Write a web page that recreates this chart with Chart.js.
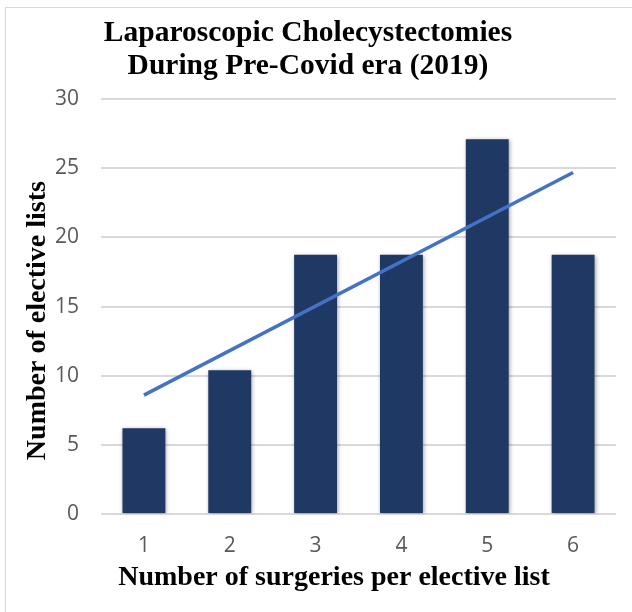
<!DOCTYPE html>
<html>
<head>
<meta charset="utf-8">
<script src="https://cdn.jsdelivr.net/npm/chart.js@4"></script>
<style>
  html, body { margin: 0; padding: 0; background: #fff; overflow: hidden; }
  #frame { position: absolute; left: 5px; top: 7px; width: 700px; height: 700px; border: 1px solid #d9d9d9; box-sizing: border-box; }
  #wrap { position: absolute; left: 0; top: 0; width: 632px; height: 612px; }
</style>
</head>
<body>
<div id="frame"></div>
<div id="wrap"><canvas id="c" width="632" height="612"></canvas></div>
<script>
const categories = ['1', '2', '3', '4', '5', '6'];
const electiveLists = [6.2, 10.4, 18.75, 18.75, 27.1, 18.75];
const trendStart = { x: '1', y: 8.6 };
const trendEnd = { x: '6', y: 24.7 };
const yTicks = [0, 5, 10, 15, 20, 25, 30];

const titleLines = ['Laparoscopic Cholecystectomies', 'During Pre-Covid era (2019)'];
const NB = '\u00A0';
const xTitle = 'Number of surgeries per elective list' + NB.repeat(7);
const yTitle = 'Number of elective lists' + NB.repeat(4);

const serif = "'Liberation Serif', 'Times New Roman', serif";
const sans = "'Open Sans', 'Noto Sans', sans-serif";

const shadowPlugin = {
  id: 'barShadow',
  beforeDatasetDraw(chart, args) {
    if (chart.data.datasets[args.index].type === 'bar') {
      const ctx = chart.ctx;
      ctx.save();
      ctx.shadowColor = 'rgba(0,0,0,0.35)';
      ctx.shadowBlur = 4;
      ctx.shadowOffsetX = 1;
      ctx.shadowOffsetY = 1;
    }
  },
  afterDatasetDraw(chart, args) {
    if (chart.data.datasets[args.index].type === 'bar') {
      chart.ctx.restore();
    }
  }
};

new Chart(document.getElementById('c'), {
  data: {
    labels: categories,
    datasets: [
      {
        type: 'line',
        data: [trendStart, trendEnd],
        borderColor: '#4472C4',
        borderWidth: 3.5,
        pointRadius: 0,
        fill: false,
        order: 0
      },
      {
        type: 'bar',
        data: electiveLists,
        backgroundColor: '#203864',
        borderWidth: 0,
        categoryPercentage: 1.0,
        barPercentage: 0.5,
        order: 1
      }
    ]
  },
  options: {
    responsive: false,
    animation: false,
    layout: { padding: { left: 0, right: 16, top: 0, bottom: 17 } },
    plugins: {
      legend: { display: false },
      tooltip: { enabled: false },
      title: {
        display: true,
        text: titleLines,
        color: '#000',
        font: { family: serif, size: 29.5, weight: 'bold', lineHeight: 1.105 },
        padding: { top: 17, bottom: 17 }
      }
    },
    scales: {
      x: {
        type: 'category',
        offset: true,
        grid: { display: false, drawTicks: false },
        border: { display: false },
        ticks: { color: '#595959', font: { family: sans, size: 21 }, padding: 19 },
        title: {
          display: true,
          text: xTitle,
          color: '#000',
          font: { family: serif, size: 28, weight: 'bold', lineHeight: 1.2 },
          padding: { top: 0, bottom: 0 }
        },
        afterFit(scale) { scale.height = 81; }
      },
      y: {
        min: 0,
        max: 30,
        afterBuildTicks(scale) { scale.ticks = yTicks.map(v => ({ value: v })); },
        grid: { color: '#d9d9d9', lineWidth: 2, drawTicks: false },
        border: { display: false },
        ticks: { color: '#595959', font: { family: sans, size: 21 }, padding: 22 },
        title: {
          display: true,
          text: yTitle,
          color: '#000',
          font: { family: serif, size: 28, weight: 'bold', lineHeight: 1.2 },
          padding: { top: 21, bottom: 0 }
        },
        afterFit(scale) { scale.width = 101; }
      }
    }
  },
  plugins: [shadowPlugin]
});
</script>
</body>
</html>
